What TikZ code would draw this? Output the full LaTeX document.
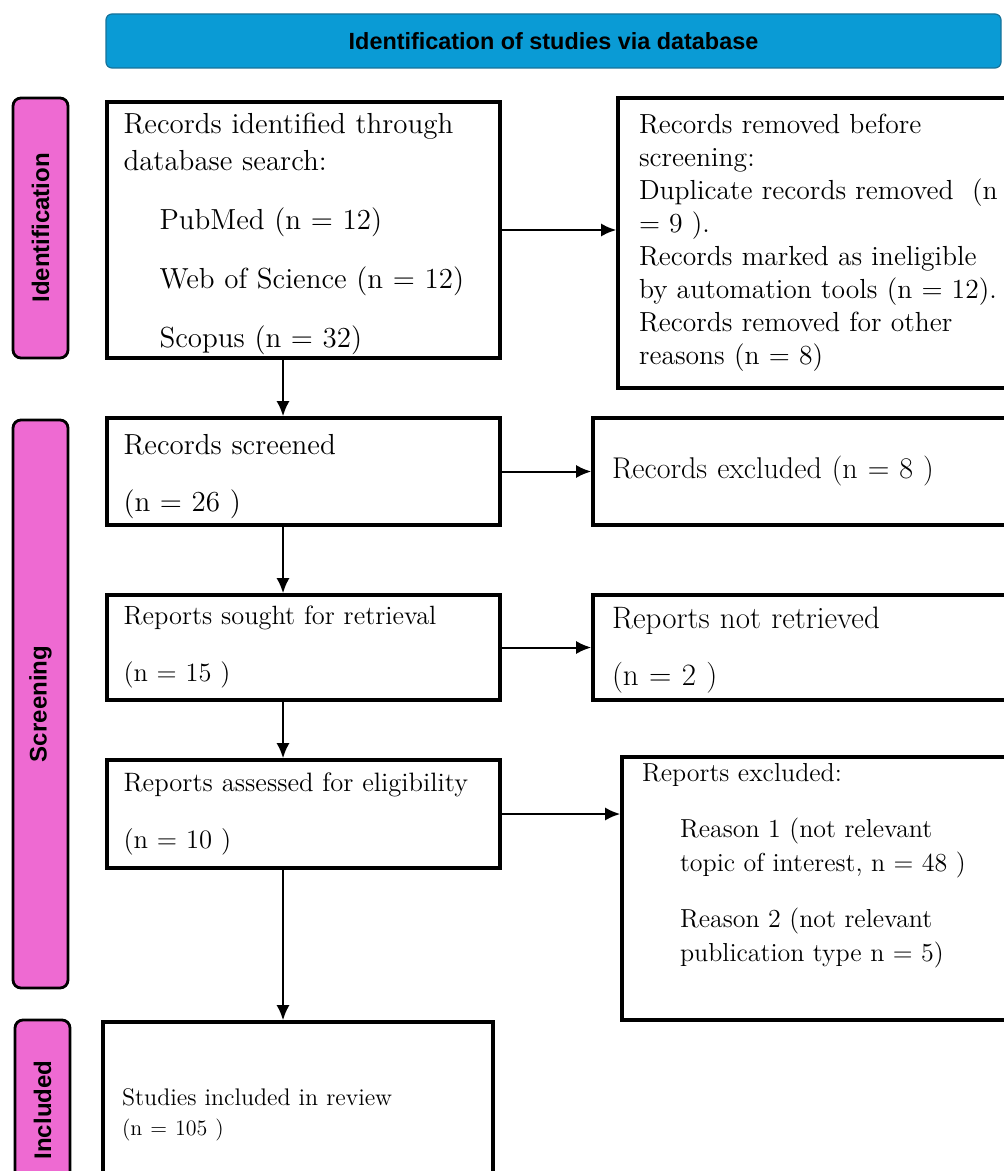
\documentclass[tikz,border=0pt]{standalone}
\usepackage{fontspec}
\newfontfamily\headfont{Liberation Sans}
\usetikzlibrary{arrows.meta}
\definecolor{headblue}{HTML}{0A9BD5}
\definecolor{headedge}{HTML}{17739A}
\definecolor{phasepink}{HTML}{EE6AD2}

\begin{document}
\begin{tikzpicture}[x=0.5pt,y=-0.5pt,
    box/.style={draw=black,line width=1.8pt,align=left,inner ysep=0pt},
    phase/.style={draw=black,line width=1.4pt,fill=phasepink,rounded corners=4pt,
      rotate=90,minimum height=27.5pt,inner sep=0pt,
      font=\headfont\bfseries\fontsize{12}{14}\selectfont},
    arr/.style={line width=1pt,-{Latex[length=7.5pt,width=6.5pt]}}]
  \useasboundingbox (0,0) rectangle (1003,1171);
  \fill[white] (0,0) rectangle (1003,1171);
  \node[draw=headedge,line width=.6pt,fill=headblue,rounded corners=3pt,
    minimum width=447.5pt,minimum height=27pt,
    font=\headfont\bfseries\fontsize{11.7}{13}\selectfont] (head) at (553.5,41)
    {Identification of studies via database};
  % phases
  \node[phase,minimum width=130pt] (pident) at (40.5,228) {Identification};
  \node[phase,minimum width=284pt] (pscreen) at (40.5,704) {Screening};
  \node[phase,minimum width=90pt] (pincl) at (42.5,1110) {Included};
  % left column
  \node[box,minimum width=196.5pt,minimum height=128pt,text width=180pt,inner xsep=8.25pt,
    font=\fontsize{14.5}{18.5}\selectfont] (ids) at (303.5,230)
    {\rule{0pt}{14.5pt}Records identified through\\database search:\\[11pt]
     \hspace*{18pt}PubMed (n = 12)\\[11pt]
     \hspace*{18pt}Web of Science (n = 12)\\[11pt]
     \hspace*{18pt}Scopus (n = 32)};
  \node[box,minimum width=196.5pt,minimum height=53.5pt,text width=180pt,inner xsep=8.25pt,
    font=\fontsize{14.5}{18.5}\selectfont] (screened) at (303.5,471.5)
    {\rule{0pt}{15pt}Records screened\\[10pt](n = 26 )};
  \node[box,minimum width=196.5pt,minimum height=52.5pt,text width=180pt,inner xsep=8.25pt,
    font=\fontsize{13.2}{18.5}\selectfont] (sought) at (303.5,647.5)
    {Reports sought for retrieval\\[10pt](n = 15 )};
  \node[box,minimum width=196.5pt,minimum height=54pt,text width=180pt,inner xsep=8.25pt,
    font=\fontsize{13.3}{18.5}\selectfont] (assessed) at (303.5,814)
    {Reports assessed for eligibility\\[10pt](n = 10 )};
  \node[box,minimum width=195pt,minimum height=93pt,text width=176pt,inner xsep=9.5pt,
    font=\fontsize{12}{15}\selectfont] (incl) at (298,1115)
    {Studies included in review\\{\fontsize{11}{15}\selectfont(n = 105 )}};
  % right column
  \node[box,minimum width=206pt,minimum height=145pt,text width=185pt,inner xsep=10.5pt,
    font=\fontsize{13.8}{16.5}\selectfont] (removed) at (824,243)
    {Records removed before\\screening:\\Duplicate records removed~ (n\\= 9 ).\\
     Records marked as ineligible\\by automation tools (n = 12).\\
     Records removed for other\\reasons (n = 8)};
  \node[box,minimum width=218.5pt,minimum height=53.5pt,text width=199.5pt,inner xsep=9.5pt,
    font=\fontsize{15}{18.5}\selectfont] (excluded) at (811.5,471.5)
    {Records excluded (n = 8 )};
  \node[box,minimum width=218.5pt,minimum height=52.5pt,text width=199.5pt,inner xsep=9.5pt,
    font=\fontsize{15.5}{18.5}\selectfont] (notret) at (811.5,647.5)
    {\rule{0pt}{13pt}Reports not retrieved\\[10pt](n = 2 )};
  \node[box,minimum width=204pt,minimum height=131.5pt,inner xsep=10pt,inner ysep=3pt,
    font=\fontsize{13}{17}\selectfont] (rexcl) at (826,888.5)
    {\parbox[c][125.5pt][t]{184pt}{Reports excluded:\\[11pt]
     \hspace*{19pt}Reason 1 (not relevant\\
     \hspace*{19pt}topic of interest, n = 48 )\\[11pt]
     \hspace*{19pt}Reason 2 (not relevant\\
     \hspace*{19pt}publication type n = 5)}};
  % connectors
  \coordinate (spine) at (283,0);
  \draw[arr] (ids.south -| spine) -- (screened.north -| spine);
  \draw[arr] (screened.south -| spine) -- (sought.north -| spine);
  \draw[arr] (sought.south -| spine) -- (assessed.north -| spine);
  \draw[arr] (assessed.south -| spine) -- (incl.north -| spine);
  \draw[arr] (ids.east) -- (ids.east -| removed.west);
  \draw[arr] (screened.east) -- (excluded.west);
  \draw[arr] (sought.east) -- (notret.west);
  \draw[arr] (assessed.east) -- (assessed.east -| rexcl.west);
\end{tikzpicture}
\end{document}
